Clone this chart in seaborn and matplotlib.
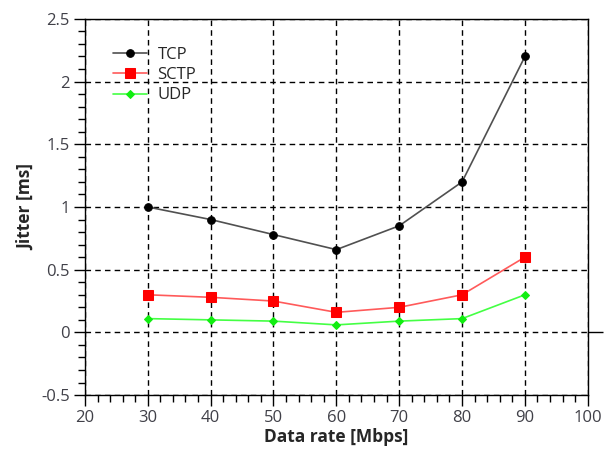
import matplotlib
matplotlib.use("Agg")
import matplotlib.pyplot as plt
from matplotlib.ticker import MultipleLocator
import seaborn as sns
import pandas as pd

rates = [30, 40, 50, 60, 70, 80, 90]
tcp = [1.0, 0.90, 0.78, 0.66, 0.85, 1.2, 2.2]
sctp = [0.30, 0.28, 0.25, 0.16, 0.20, 0.30, 0.60]
udp = [0.11, 0.10, 0.09, 0.06, 0.09, 0.11, 0.30]
series_names = ["TCP", "SCTP", "UDP"]

sns.set_style("white")
plt.rcParams['font.family'] = ['Open Sans', 'DejaVu Sans']

fig = plt.figure(figsize=(6.11, 4.49), dpi=100)
ax = fig.add_axes([0.139, 0.120, 0.823, 0.838])

styles = {
    "TCP": dict(color="#505050", marker="o", markersize=5.5, markerfacecolor="black",
                markeredgecolor="black", linewidth=1.2),
    "SCTP": dict(color="#ff5a5a", marker="s", markersize=6.5, markerfacecolor="#ff0000",
                 markeredgecolor="#ff0000", linewidth=1.2),
    "UDP": dict(color="#44ff44", marker="D", markersize=4, markerfacecolor="#11ee11",
                markeredgecolor="#11ee11", linewidth=1.2),
}
for name, vals in zip(series_names, [tcp, sctp, udp]):
    df = pd.DataFrame({"rate": rates, "jitter": vals})
    sns.lineplot(data=df, x="rate", y="jitter", ax=ax, label=name, **styles[name])

ax.set_xlim(20, 100)
ax.set_ylim(-0.5, 2.5)
ax.xaxis.set_major_locator(MultipleLocator(10))
ax.xaxis.set_minor_locator(MultipleLocator(2))
ax.yaxis.set_major_locator(MultipleLocator(0.5))
ax.yaxis.set_minor_locator(MultipleLocator(0.1))
ax.set_yticks([-0.5, 0, 0.5, 1, 1.5, 2, 2.5])
ax.set_yticklabels(["-0.5", "0", "0.5", "1", "1.5", "2", "2.5"])

ax.grid(True, which="major", color="black", linestyle=(0, (4, 3)), linewidth=1.0)
ax.set_axisbelow(True)
for s in ax.spines.values():
    s.set_color("black")
    s.set_linewidth(1.0)

ax.tick_params(which="major", direction="out", length=8, width=1.0, color="black",
               labelsize=12, labelcolor="#404048", bottom=True, left=True, pad=3)
ax.tick_params(which="minor", direction="out", length=5, width=1.0, color="black",
               bottom=True, left=True)

sec = ax.secondary_yaxis("right")
sec.set_yticks([0])
sec.set_yticklabels([""])
sec.tick_params(direction="out", length=11, width=1.0, color="black")
sec.spines["right"].set_visible(False)

ax.set_xlabel("Data rate [Mbps]", fontsize=12.5, fontweight="bold", labelpad=1)
ax.set_ylabel("Jitter [ms]", fontsize=12.5, fontweight="bold", labelpad=4)

leg = ax.legend(loc="upper left", bbox_to_anchor=(0.025, 0.965), frameon=False,
                fontsize=12, handlelength=2.05, handletextpad=0.65, labelspacing=0.25)

fig.savefig("out.png", dpi=100)
